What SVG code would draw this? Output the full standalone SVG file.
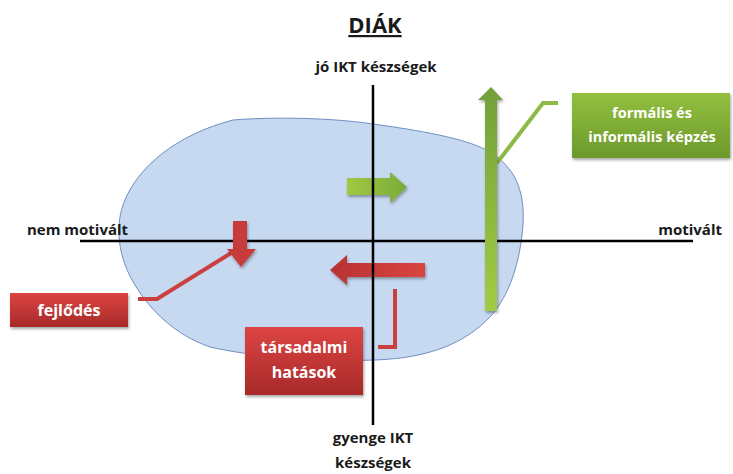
<svg xmlns="http://www.w3.org/2000/svg" width="733" height="474" viewBox="0 0 733 474">
<style>
.lbl{font-family:"Open Sans","Liberation Sans",sans-serif;font-weight:bold;fill:#1a1a1a;font-size:15px;}
.btxt{font-family:"Open Sans","Liberation Sans",sans-serif;font-weight:bold;fill:#ffffff;font-size:14.5px;text-anchor:middle;}
.rtxt{font-size:16px;}
.axis{stroke:#000;stroke-width:2.5;fill:none;}
.gline{stroke:#8dba45;stroke-width:4;fill:none;}
.rline{stroke:#c9403f;stroke-width:4;fill:none;}
</style>
<defs>
<linearGradient id="gBox" x1="0" y1="0" x2="0" y2="1"><stop offset="0" stop-color="#93c03f"/><stop offset="1" stop-color="#6c992c"/></linearGradient>
<linearGradient id="rBox" x1="0" y1="0" x2="0" y2="1"><stop offset="0" stop-color="#dc4442"/><stop offset="1" stop-color="#a82a2a"/></linearGradient>
<linearGradient id="gV" x1="0" y1="0" x2="0" y2="1"><stop offset="0" stop-color="#72a03a"/><stop offset="1" stop-color="#a2cb45"/></linearGradient>
<linearGradient id="gH" x1="0" y1="0" x2="1" y2="0"><stop offset="0" stop-color="#a0c942"/><stop offset="1" stop-color="#7aab3a"/></linearGradient>
<linearGradient id="rA" x1="0" y1="0" x2="1" y2="0"><stop offset="0" stop-color="#b83234"/><stop offset="1" stop-color="#d9453f"/></linearGradient>
<filter id="sh" x="-10%" y="-10%" width="130%" height="140%"><feDropShadow dx="1" dy="2" stdDeviation="1.5" flood-color="#000" flood-opacity="0.35"/></filter>
</defs>
<rect width="733" height="474" fill="#ffffff"/>
<g id="region">
<path d="M 233,120 C 270,117 330,117 380,125 C 430,132 470,140 490,152 C 515,168 525,190 523,225 C 520,262 510,295 490,317 C 465,343 430,358 375,360 C 310,362 250,356 210,347 C 175,335 150,310 135,285 C 118,258 114,225 125,200 C 138,168 175,135 233,120 Z" fill="#c6d9f1" stroke="#6f8fc4" stroke-width="1"/>
</g>
<g id="title"><text class="lbl" x="375" y="33" font-size="22" text-anchor="middle" text-decoration="underline" style="font-size:22px">DIÁK</text></g>
<g id="arrows">
<polygon id="green-right" points="347,178 390,178 390,172 407,187 390,203 390,195 347,195" fill="url(#gH)" filter="url(#sh)"/>
<polygon id="red-left" points="425,263 347,263 347,255 330,270 347,285 347,277 425,277" fill="url(#rA)" filter="url(#sh)"/>
</g>
<g id="connectors">
<polyline class="gline" points="497,163 543,103 558,103"/>
<polyline class="rline" points="138,299 157,299 236,250"/>
<polyline class="rline" points="395,289 395,347 378,347"/>
</g>
<g id="axes">
<line class="axis" x1="373" y1="85" x2="373" y2="425"/>
<line class="axis" x1="80" y1="241" x2="693" y2="241"/>
</g>
<g id="green-up"><polygon points="485,311 485,100 478,100 491,87 503,100 497,100 497,311" fill="url(#gV)" filter="url(#sh)"/></g>
<g id="red-down"><polygon points="233,221 247,221 247,249 256,249 241,267 227,249 233,249" fill="#c83a3a" filter="url(#sh)"/></g>
<g id="lbl-top"><text class="lbl" x="376" y="72" text-anchor="middle">jó IKT készségek</text></g>
<g id="lbl-bottom"><text class="lbl" x="373" y="443" text-anchor="middle">gyenge IKT</text><text class="lbl" x="373" y="468" text-anchor="middle">készségek</text></g>
<g id="lbl-left"><text class="lbl" x="27" y="235">nem motivált</text></g>
<g id="lbl-right"><text class="lbl" x="722" y="235" text-anchor="end">motivált</text></g>
<g id="box-kepzes"><rect x="572" y="93" width="158" height="65" fill="url(#gBox)" filter="url(#sh)"/><text class="btxt" x="652" y="118">formális és</text><text class="btxt" x="652" y="142">informális képzés</text></g>
<g id="box-fejlodes"><rect x="10" y="293" width="118" height="34" fill="url(#rBox)" filter="url(#sh)"/><text class="btxt rtxt" x="69" y="316">fejlődés</text></g>
<g id="box-tarsadalmi"><rect x="245" y="327" width="118" height="68" fill="url(#rBox)" filter="url(#sh)"/><text class="btxt rtxt" x="304" y="353">társadalmi</text><text class="btxt rtxt" x="304" y="378">hatások</text></g>
</svg>
